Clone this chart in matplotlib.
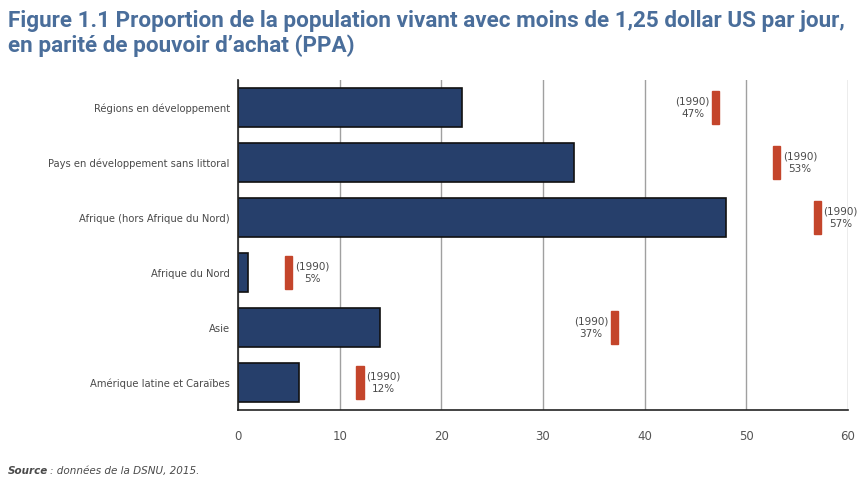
import matplotlib
matplotlib.use("Agg")
import matplotlib.pyplot as plt
from matplotlib.patches import Rectangle

# --- données ---
regions = [
    "Régions en développement",
    "Pays en développement sans littoral",
    "Afrique (hors Afrique du Nord)",
    "Afrique du Nord",
    "Asie",
    "Amérique latine et Caraïbes",
]
valeurs_2015 = [22, 33, 48, 1, 14, 6]
valeurs_1990 = [47, 53, 57, 5, 37, 12]
label_a_gauche = [True, False, False, False, True, False]
xticks = [0, 10, 20, 30, 40, 50, 60]

NAVY = "#263f6b"
RED = "#c4452b"
TITLE_BLUE = "#4a6e9b"
TXT = "#4a4a4a"

TITRE_FONT = ["Roboto", "DejaVu Sans"]

fig = plt.figure(figsize=(8.64, 4.82), dpi=100)
ax = fig.add_axes([0.2755, 0.149, 0.7060, 0.685])

y = list(range(len(regions)))
ax.barh(y, valeurs_2015, height=0.7, color=NAVY, edgecolor="#111111",
        linewidth=1.2, zorder=3)

# marqueurs 1990
for yi, v, gauche in zip(y, valeurs_1990, label_a_gauche):
    ax.add_patch(Rectangle((v - 0.35, yi - 0.3), 0.7, 0.6, color=RED, zorder=4))
    txt = "(1990)\n%d%%" % v
    if gauche:
        ax.text(v - 0.6, yi, txt, ha="right", va="center", fontsize=7.5,
                color=TXT, multialignment="center", linespacing=1.3, zorder=5)
    else:
        ax.text(v + 0.6, yi, txt, ha="left", va="center", fontsize=7.5,
                color=TXT, multialignment="center", linespacing=1.3, zorder=5)

ax.set_xlim(0, 60)
ax.set_ylim(5.5, -0.5)
ax.set_xticks(xticks)
ax.set_yticks(y)
ax.set_yticklabels(regions, fontsize=7.2, color=TXT)
ax.tick_params(axis="y", length=0, pad=6)
ax.tick_params(axis="x", length=0, pad=14, labelsize=8.5, labelcolor="#555555")
ax.grid(axis="x", color="#a0a0a0", linewidth=1.0, zorder=0)
ax.set_axisbelow(True)
for s in ["top", "right"]:
    ax.spines[s].set_visible(False)
for s in ["left", "bottom"]:
    ax.spines[s].set_color("#222222")
    ax.spines[s].set_linewidth(1.2)
    ax.spines[s].set_zorder(6)

fig.text(0.009, 0.957, "Figure 1.1 Proportion de la population vivant avec moins de 1,25 dollar US par jour,",
         fontsize=16.2, fontweight="bold", color=TITLE_BLUE, family=TITRE_FONT, va="center")
fig.text(0.009, 0.905, "en parité de pouvoir d\u2019achat (PPA)",
         fontsize=16.2, fontweight="bold", color=TITLE_BLUE, family=TITRE_FONT, va="center")

fig.text(0.009, 0.012, "Source", fontsize=7.5, fontweight="bold", style="italic",
         color=TXT, va="bottom")
fig.text(0.058, 0.012, ": données de la DSNU, 2015.", fontsize=7.5, style="italic",
         color=TXT, va="bottom")

fig.savefig("out.png", dpi=100)
